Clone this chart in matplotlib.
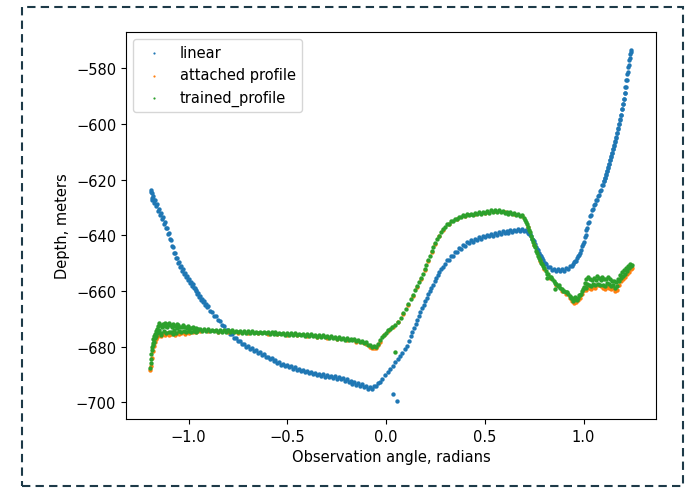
import matplotlib.pyplot as plt
from matplotlib.patches import Rectangle

# (angle, depth) pairs
linear_pts = [
    (-1.190, -624.3), (-1.188, -623.6), (-1.186, -626.5), (-1.185, -627.2), (-1.183, -624.9),
    (-1.180, -625.8), (-1.178, -627.0), (-1.175, -628.3), (-1.170, -627.4), (-1.165, -629.6),
    (-1.160, -628.9), (-1.155, -631.2), (-1.150, -630.4), (-1.145, -632.6), (-1.140, -632.0),
    (-1.135, -634.1), (-1.130, -633.6), (-1.125, -635.8), (-1.120, -635.4), (-1.115, -637.5),
    (-1.110, -637.3), (-1.105, -639.6), (-1.100, -639.3), (-1.095, -641.4), (-1.090, -641.6),
    (-1.085, -644.0), (-1.080, -644.4), (-1.075, -646.5), (-1.070, -646.4), (-1.065, -648.3),
    (-1.060, -648.2), (-1.055, -649.8), (-1.050, -649.7), (-1.045, -651.4), (-1.040, -651.0),
    (-1.035, -652.7), (-1.030, -652.2), (-1.025, -653.8), (-1.020, -653.4), (-1.015, -655.0),
    (-1.010, -654.6), (-1.005, -656.1), (-1.000, -655.7), (-0.995, -657.1), (-0.990, -656.7),
    (-0.985, -658.1), (-0.980, -657.6), (-0.975, -659.0), (-0.970, -658.8), (-0.965, -660.1),
    (-0.960, -659.7), (-0.955, -661.2), (-0.950, -660.8), (-0.945, -662.2), (-0.940, -661.9),
    (-0.935, -663.3), (-0.930, -662.8), (-0.925, -664.1), (-0.920, -663.8), (-0.915, -665.0),
    (-0.910, -664.6), (-0.905, -665.8), (-0.900, -665.6),
    (-0.89, -667.1), (-0.88, -667.4), (-0.87, -668.9), (-0.86, -669.0), (-0.85, -670.6),
    (-0.84, -670.7), (-0.83, -672.3), (-0.82, -672.5), (-0.81, -674.0), (-0.80, -674.2),
    (-0.79, -675.6), (-0.78, -675.6), (-0.77, -676.9), (-0.76, -676.8), (-0.75, -678.1),
    (-0.74, -678.0), (-0.73, -679.2), (-0.72, -678.9), (-0.71, -680.0), (-0.70, -679.7),
    (-0.69, -680.8), (-0.68, -680.5), (-0.67, -681.6), (-0.66, -681.3), (-0.65, -682.4),
    (-0.64, -682.0), (-0.63, -683.1), (-0.62, -682.8), (-0.61, -683.9), (-0.60, -683.6),
    (-0.59, -684.6), (-0.58, -684.2), (-0.57, -685.2), (-0.56, -684.8), (-0.55, -685.8),
    (-0.54, -685.5), (-0.53, -686.5), (-0.52, -686.1), (-0.51, -687.1), (-0.50, -686.6),
    (-0.49, -687.5), (-0.48, -687.0), (-0.47, -687.9), (-0.46, -687.4), (-0.45, -688.3),
    (-0.44, -687.9), (-0.43, -688.8), (-0.42, -688.3), (-0.41, -689.2), (-0.40, -688.7),
    (-0.39, -689.6), (-0.38, -689.0), (-0.37, -689.9), (-0.36, -689.4), (-0.35, -690.2),
    (-0.34, -689.7), (-0.33, -690.5), (-0.32, -689.9), (-0.31, -690.8), (-0.30, -690.2),
    (-0.29, -691.1), (-0.28, -690.5), (-0.27, -691.3), (-0.26, -690.7), (-0.25, -691.5),
    (-0.24, -690.9), (-0.23, -691.7), (-0.22, -691.2), (-0.21, -692.2), (-0.20, -691.7),
    (-0.19, -692.7), (-0.18, -692.2), (-0.17, -693.3), (-0.16, -692.8), (-0.15, -693.7),
    (-0.14, -693.1), (-0.13, -694.0), (-0.12, -693.6), (-0.11, -694.7), (-0.10, -694.2),
    (-0.09, -695.3), (-0.08, -694.7), (-0.07, -695.2), (-0.06, -694.3), (-0.05, -694.2),
    (-0.04, -693.1), (-0.03, -692.6),
    (-0.020, -691.5), (-0.005, -690.2), (0.008, -689.0), (0.020, -688.0), (0.033, -686.8),
    (0.046, -685.7), (0.058, -684.6), (0.070, -683.4), (0.082, -682.2), (0.094, -681.0),
    (0.105, -679.8), (0.115, -678.0), (0.124, -676.2), (0.133, -674.8), (0.142, -673.3),
    (0.150, -671.8), (0.158, -670.3), (0.166, -669.0), (0.174, -667.6), (0.182, -666.3),
    (0.190, -665.0), (0.198, -663.6), (0.206, -662.4), (0.214, -661.1), (0.222, -659.9),
    (0.230, -658.8), (0.238, -657.7), (0.246, -656.6), (0.254, -655.5), (0.262, -654.4),
    (0.270, -653.3), (0.279, -652.3), (0.288, -651.3), (0.298, -650.4),
    (0.036, -697.0), (0.055, -699.7),
    (0.31, -649.0), (0.32, -648.9), (0.33, -647.4), (0.34, -647.4), (0.35, -645.9),
    (0.36, -646.0), (0.37, -644.6), (0.38, -644.8), (0.39, -643.4), (0.40, -643.7),
    (0.41, -642.5), (0.42, -642.9), (0.43, -641.8), (0.44, -642.3), (0.45, -641.2),
    (0.46, -641.8), (0.47, -640.7), (0.48, -641.3), (0.49, -640.2), (0.50, -640.8),
    (0.51, -639.8), (0.52, -640.4), (0.53, -639.5), (0.54, -640.1), (0.55, -639.2),
    (0.56, -639.8), (0.57, -638.8), (0.58, -639.5), (0.59, -638.6), (0.60, -639.3),
    (0.61, -638.4), (0.62, -639.1), (0.63, -638.2), (0.64, -638.9), (0.65, -638.0),
    (0.66, -638.6), (0.67, -637.7), (0.68, -638.4), (0.69, -637.6), (0.70, -638.4),
    (0.71, -638.2), (0.715, -638.6), (0.72, -639.3), (0.725, -639.5), (0.73, -639.6),
    (0.735, -640.3), (0.74, -641.2), (0.745, -641.8), (0.75, -642.1), (0.755, -643.0),
    (0.76, -644.2), (0.765, -644.9), (0.77, -645.4), (0.775, -646.3), (0.78, -647.2),
    (0.785, -647.6), (0.79, -648.1), (0.795, -649.0), (0.80, -649.8), (0.805, -650.1),
    (0.81, -650.2), (0.82, -651.4), (0.83, -651.5), (0.84, -652.5), (0.85, -652.0),
    (0.86, -652.9), (0.87, -652.2), (0.88, -653.0), (0.89, -652.1), (0.90, -652.8),
    (0.91, -651.8), (0.92, -652.3), (0.93, -651.0), (0.94, -651.0), (0.945, -650.4),
    (0.95, -649.5), (0.955, -649.1), (0.96, -649.2), (0.965, -648.3), (0.97, -647.3),
    (0.975, -647.0), (0.98, -646.4), (0.985, -645.3), (0.99, -644.0), (0.995, -643.2),
    (1.000, -642.3), (1.005, -640.5), (1.010, -639.9), (1.015, -638.1), (1.020, -637.5),
    (1.025, -635.7), (1.030, -635.1), (1.035, -633.2), (1.040, -632.7), (1.045, -631.0),
    (1.050, -630.6), (1.055, -629.1), (1.060, -628.9), (1.065, -627.5), (1.070, -627.3),
    (1.075, -625.8), (1.080, -625.5), (1.085, -624.0), (1.090, -623.7), (1.095, -622.1),
    (1.100, -621.8), (1.1025, -620.6), (1.105, -620.6), (1.1075, -619.3), (1.110, -619.4),
    (1.1125, -618.1), (1.115, -618.2), (1.1175, -616.8), (1.120, -617.0), (1.1225, -615.6),
    (1.125, -615.7), (1.1275, -614.3), (1.130, -614.5), (1.1325, -613.0), (1.135, -613.1),
    (1.1375, -611.7), (1.140, -611.9), (1.1425, -610.4), (1.145, -610.5), (1.1475, -609.0),
    (1.150, -609.1), (1.1525, -607.6), (1.155, -607.8), (1.1575, -606.2), (1.160, -606.4),
    (1.1625, -604.8), (1.165, -605.0), (1.1675, -603.3), (1.170, -603.4), (1.1725, -601.6),
    (1.175, -601.8), (1.1775, -600.0), (1.180, -600.2), (1.1825, -598.4), (1.185, -598.5),
    (1.1875, -596.7), (1.190, -596.7), (1.1925, -594.8), (1.195, -594.8), (1.1975, -592.9),
    (1.200, -592.9), (1.2025, -590.9), (1.205, -590.9), (1.2075, -588.8), (1.210, -588.8),
    (1.2125, -586.6), (1.215, -586.6), (1.2175, -584.4), (1.220, -584.1), (1.2225, -582.0),
    (1.225, -581.4), (1.2275, -579.6), (1.230, -578.8), (1.2325, -577.1), (1.235, -576.5),
    (1.2375, -575.0), (1.240, -574.3), (1.2425, -573.3),
]

attached_pts = [
    (-1.195, -688.3), (-1.19, -686.8), (-1.185, -684.0), (-1.18, -681.6), (-1.175, -679.8),
    (-1.17, -678.2), (-1.165, -677.1), (-1.16, -676.4), (-1.15, -675.9), (-1.14, -676.3),
    (-1.13, -675.5), (-1.12, -676.0), (-1.11, -675.3), (-1.10, -675.8), (-1.09, -675.6),
    (-1.08, -675.1), (-1.07, -675.7), (-1.06, -675.0), (-1.05, -675.5), (-1.04, -675.2),
    (-1.03, -674.8), (-1.02, -675.4), (-1.01, -674.9), (-1.00, -675.2), (-0.98, -674.8),
    (-0.96, -674.9), (-0.94, -674.5), (-0.90, -674.5), (-0.85, -674.7), (-0.80, -674.9),
    (-0.75, -675.0), (-0.70, -675.2), (-0.65, -675.3), (-0.60, -675.4), (-0.55, -675.6),
    (-0.50, -675.7), (-0.45, -676.0), (-0.40, -676.2), (-0.35, -676.5), (-0.30, -676.8),
    (-0.25, -677.2), (-0.20, -677.6), (-0.15, -678.2), (-0.12, -678.5), (-0.10, -679.2),
    (-0.08, -680.0), (-0.07, -680.5), (-0.06, -680.6), (-0.05, -680.5), (-0.04, -679.6),
    (-0.03, -678.4), (-0.01, -676.0), (0.012, -674.4), (0.035, -672.9), (0.06, -671.3),
    (0.087, -668.4), (0.112, -665.0), (0.135, -661.8), (0.157, -658.6), (0.177, -655.7),
    (0.195, -652.6), (0.213, -649.4), (0.231, -646.1), (0.25, -643.2), (0.27, -640.4),
    (0.29, -638.1), (0.32, -635.9), (0.36, -634.1), (0.40, -633.1), (0.45, -632.2),
    (0.50, -631.9), (0.55, -631.3), (0.60, -631.8), (0.65, -632.4), (0.69, -633.2),
    (0.72, -637.2), (0.75, -643.6), (0.78, -649.3), (0.80, -652.0), (0.83, -655.2),
    (0.86, -657.8), (0.89, -659.9), (0.91, -661.1), (0.93, -662.6), (0.94, -663.5),
    (0.95, -664.2), (0.96, -664.0), (0.97, -663.4), (0.98, -662.4), (0.99, -661.1),
    (1.00, -659.8), (1.01, -659.6), (1.02, -658.4), (1.03, -659.0), (1.04, -659.2),
    (1.05, -658.6), (1.06, -659.1), (1.07, -658.0), (1.08, -657.9), (1.09, -658.3),
    (1.10, -658.8), (1.11, -659.2), (1.12, -658.5), (1.13, -658.9), (1.14, -659.4),
    (1.15, -658.9), (1.16, -660.0), (1.17, -659.5), (1.18, -657.8), (1.19, -656.6),
    (1.20, -655.6), (1.21, -655.0), (1.22, -654.0), (1.23, -653.2), (1.24, -652.3),
    (1.245, -651.6),
]

trained_pts = [
    (-1.195, -687.8), (-1.192, -686.0), (-1.190, -684.5), (-1.188, -682.8), (-1.186, -681.2),
    (-1.184, -680.3), (-1.182, -678.6), (-1.180, -679.5), (-1.178, -677.4), (-1.176, -678.2),
    (-1.174, -676.3), (-1.172, -677.0), (-1.170, -675.4), (-1.167, -676.2), (-1.165, -674.3),
    (-1.162, -675.0), (-1.160, -673.8), (-1.157, -674.6), (-1.155, -672.6), (-1.150, -674.1),
    (-1.148, -671.6), (-1.145, -672.2), (-1.140, -675.0), (-1.138, -676.0), (-1.135, -673.0),
    (-1.130, -671.9), (-1.125, -674.4), (-1.120, -672.5), (-1.118, -671.4), (-1.115, -675.2),
    (-1.110, -673.1), (-1.105, -671.8), (-1.100, -674.6), (-1.098, -671.7), (-1.095, -672.4),
    (-1.090, -674.9), (-1.085, -672.9), (-1.080, -671.9), (-1.078, -675.6), (-1.075, -674.2),
    (-1.070, -672.6), (-1.065, -675.0), (-1.060, -673.2), (-1.058, -671.8), (-1.055, -672.3),
    (-1.050, -674.5), (-1.045, -672.9), (-1.040, -674.8), (-1.035, -673.1), (-1.030, -672.4),
    (-1.025, -674.3), (-1.020, -673.0), (-1.015, -674.7), (-1.010, -673.3), (-1.005, -672.7),
    (-1.000, -674.4), (-0.995, -673.3), (-0.990, -674.6), (-0.985, -673.5), (-0.980, -673.0),
    (-0.975, -674.5), (-0.970, -673.6), (-0.965, -674.6), (-0.960, -673.4), (-0.955, -674.3),
    (-0.950, -673.7),
    (-0.94, -673.6), (-0.93, -674.3), (-0.92, -673.7), (-0.91, -674.4), (-0.90, -673.8),
    (-0.89, -674.4), (-0.88, -673.9), (-0.87, -674.5), (-0.86, -673.9), (-0.85, -674.6),
    (-0.84, -674.0), (-0.83, -674.6), (-0.82, -674.1), (-0.81, -674.7), (-0.80, -674.1),
    (-0.79, -674.8), (-0.78, -674.2), (-0.77, -674.8), (-0.76, -674.3), (-0.75, -674.9),
    (-0.74, -674.3), (-0.73, -675.0), (-0.72, -674.4), (-0.71, -675.0), (-0.70, -674.5),
    (-0.69, -675.1), (-0.68, -674.5), (-0.67, -675.1), (-0.66, -674.6), (-0.65, -675.2),
    (-0.64, -674.6), (-0.63, -675.3), (-0.62, -674.7), (-0.61, -675.3), (-0.60, -674.8),
    (-0.59, -675.4), (-0.58, -674.8), (-0.57, -675.5), (-0.56, -674.9), (-0.55, -675.5),
    (-0.54, -675.0), (-0.53, -675.6), (-0.52, -675.0), (-0.51, -675.7), (-0.50, -675.1),
    (-0.49, -675.8), (-0.48, -675.2), (-0.47, -675.8), (-0.46, -675.3), (-0.45, -675.9),
    (-0.44, -675.4), (-0.43, -676.0), (-0.42, -675.4), (-0.41, -676.1), (-0.40, -675.5),
    (-0.39, -676.2), (-0.38, -675.6), (-0.37, -676.3), (-0.36, -675.8), (-0.35, -676.4),
    (-0.34, -675.9), (-0.33, -676.5), (-0.32, -676.0), (-0.31, -676.7), (-0.30, -676.1),
    (-0.29, -676.8), (-0.28, -676.3), (-0.27, -677.0), (-0.26, -676.4), (-0.25, -677.1),
    (-0.24, -676.6), (-0.23, -677.3), (-0.22, -676.8), (-0.21, -677.5), (-0.20, -677.0),
    (-0.19, -677.7), (-0.18, -677.1), (-0.17, -677.8), (-0.16, -677.3), (-0.15, -678.0),
    (-0.14, -677.5), (-0.13, -678.2), (-0.12, -677.9), (-0.11, -678.7), (-0.10, -678.5),
    (-0.09, -679.4), (-0.08, -679.3), (-0.07, -680.1), (-0.06, -679.9), (-0.05, -680.2),
    (-0.04, -679.0), (-0.03, -677.8),
    (-0.02, -676.5), (-0.01, -675.8), (0.0, -675.0), (0.01, -674.2), (0.02, -673.6),
    (0.03, -673.0), (0.045, -672.2), (0.06, -671.0), (0.075, -669.6), (0.087, -668.1),
    (0.10, -666.4), (0.112, -664.7), (0.124, -663.0), (0.135, -661.4), (0.146, -659.8),
    (0.157, -658.2), (0.167, -656.9), (0.177, -655.4), (0.186, -653.8), (0.195, -652.2),
    (0.204, -650.6), (0.213, -649.0), (0.222, -647.4), (0.231, -645.8), (0.24, -644.4),
    (0.25, -642.9), (0.26, -641.4), (0.27, -640.1), (0.28, -638.9), (0.29, -637.8),
    (0.30, -636.9), (0.046, -682.0),
    (0.31, -636.0), (0.32, -635.8), (0.33, -634.9), (0.34, -634.9), (0.35, -634.0),
    (0.36, -634.2), (0.37, -633.3), (0.38, -633.6), (0.39, -632.8), (0.40, -633.2),
    (0.41, -632.5), (0.42, -632.9), (0.43, -632.2), (0.44, -632.7), (0.45, -631.9),
    (0.46, -632.5), (0.47, -631.7), (0.48, -632.3), (0.49, -631.5), (0.50, -632.1),
    (0.51, -631.3), (0.52, -631.9), (0.53, -631.1), (0.54, -631.7), (0.55, -631.0),
    (0.56, -631.6), (0.57, -631.0), (0.58, -631.7), (0.59, -631.2), (0.60, -631.9),
    (0.61, -631.5), (0.62, -632.2), (0.63, -631.8), (0.64, -632.5), (0.65, -632.1),
    (0.66, -632.8), (0.67, -632.4), (0.68, -633.1), (0.69, -632.9),
    (0.700, -633.8), (0.705, -634.4), (0.710, -635.2), (0.715, -636.0), (0.720, -637.0),
    (0.725, -638.0), (0.730, -639.0), (0.735, -640.1), (0.740, -641.2), (0.745, -642.3),
    (0.750, -643.4), (0.755, -644.4), (0.760, -645.5), (0.765, -646.4), (0.770, -647.4),
    (0.775, -648.2), (0.780, -649.0), (0.785, -649.8), (0.790, -650.5), (0.795, -651.1),
    (0.800, -651.8), (0.81, -652.9), (0.815, -653.8), (0.82, -653.9), (0.83, -654.9),
    (0.835, -655.0), (0.84, -655.8), (0.85, -656.6), (0.855, -657.3), (0.86, -657.4),
    (0.87, -658.1), (0.875, -658.0), (0.88, -658.8), (0.89, -659.4), (0.895, -660.0),
    (0.90, -659.9), (0.91, -660.5), (0.915, -660.5), (0.92, -661.2), (0.93, -661.9),
    (0.935, -662.6), (0.94, -662.6), (0.945, -663.6), (0.95, -663.0), (0.955, -662.3),
    (0.96, -663.0), (0.965, -663.4), (0.97, -662.5), (0.975, -661.6), (0.98, -661.5),
    (0.985, -661.2), (0.99, -660.2), (0.995, -659.3), (0.814, -655.2), (0.856, -659.3),
    (1.000, -658.6), (1.005, -657.2), (1.010, -658.9), (1.015, -655.8), (1.020, -657.5),
    (1.025, -654.9), (1.030, -657.8), (1.035, -655.6), (1.040, -658.2), (1.045, -656.0),
    (1.050, -657.4), (1.055, -655.3), (1.060, -658.0), (1.065, -656.2), (1.070, -654.8),
    (1.075, -657.6), (1.080, -655.4), (1.085, -657.9), (1.090, -656.1), (1.095, -654.9),
    (1.100, -657.7), (1.105, -655.6), (1.110, -658.1), (1.115, -655.9), (1.120, -657.3),
    (1.125, -655.1), (1.130, -657.6), (1.135, -655.7), (1.140, -658.2), (1.145, -656.3),
    (1.150, -657.9), (1.155, -656.6), (1.160, -659.0), (1.165, -656.9), (1.170, -658.3),
    (1.175, -655.6), (1.180, -656.6), (1.185, -654.2), (1.190, -655.4), (1.195, -653.3),
    (1.200, -654.5), (1.205, -652.6), (1.210, -653.8), (1.215, -651.9), (1.220, -652.8),
    (1.225, -650.9), (1.230, -651.9), (1.235, -650.2), (1.240, -651.1), (1.245, -650.6),
]

labels = ['linear', 'attached profile', 'trained_profile']

fig = plt.figure(figsize=(6.91, 4.89), dpi=100)
ax = fig.add_axes([126/691, 69/489, 530/691, 387/489])

for pts, lab in zip([linear_pts, attached_pts, trained_pts], labels):
    xs, ys = zip(*pts)
    ax.scatter(xs, ys, s=10, linewidths=0, label=lab)

ax.set_xlabel('Observation angle, radians', fontsize=10.5)
ax.set_ylabel('Depth, meters', fontsize=10.5)
ax.tick_params(labelsize=10.5)
ax.legend(loc='upper left', fontsize=10.5, markerscale=0.5)

# dashed frame around the whole picture
fig.patches.append(Rectangle((22/691, 2/489), 661/691, 479/489, transform=fig.transFigure,
                             fill=False, ec='#1d3a48', lw=1.5, ls=(0, (4, 2.5))))

fig.savefig('out.png', dpi=100)
